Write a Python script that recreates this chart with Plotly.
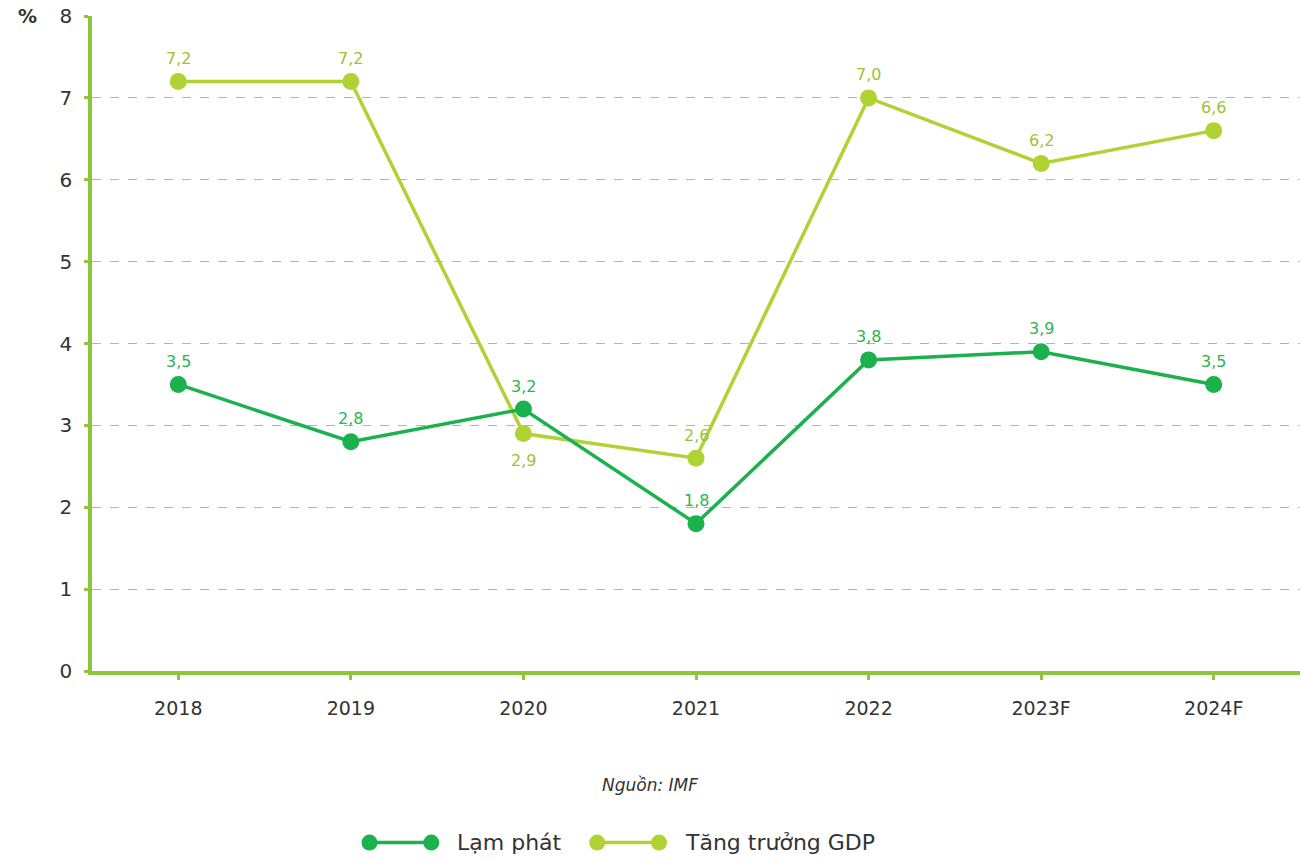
import plotly.graph_objects as go

years = ["2018", "2019", "2020", "2021", "2022", "2023F", "2024F"]
lam_phat = [3.5, 2.8, 3.2, 1.8, 3.8, 3.9, 3.5]
tang_truong_gdp = [7.2, 7.2, 2.9, 2.6, 7.0, 6.2, 6.6]
y_ticks = [0, 1, 2, 3, 4, 5, 6, 7, 8]

INF_COLOR = "#1bb14c"
GDP_COLOR = "#b1d235"
INF_LABEL = "#2cb450"
GDP_LABEL = "#9cc23a"
AXIS_COLOR = "#8cc63f"
TEXT_COLOR = "#333333"
FONT = "DejaVu Sans"

fig = go.Figure()
fig.add_trace(go.Scatter(
    x=years, y=tang_truong_gdp, mode="lines+markers", name="Tăng trưởng GDP",
    line=dict(color=GDP_COLOR, width=3.5),
    marker=dict(color=GDP_COLOR, size=17),
    showlegend=False, cliponaxis=False,
))
fig.add_trace(go.Scatter(
    x=years, y=lam_phat, mode="lines+markers", name="Lạm phát",
    line=dict(color=INF_COLOR, width=3.5),
    marker=dict(color=INF_COLOR, size=17),
    showlegend=False, cliponaxis=False,
))


def fmt(v):
    return f"{v:.1f}".replace(".", ",")


# Value labels (category index as x): above each point, except the 2020 GDP label below
for i, v in enumerate(tang_truong_gdp):
    below = i == 2
    fig.add_annotation(x=i, y=v, text=fmt(v), showarrow=False,
                       yshift=-27 if below else 23, yanchor="middle",
                       font=dict(size=16, color=GDP_LABEL, family=FONT))
for i, v in enumerate(lam_phat):
    fig.add_annotation(x=i, y=v, text=fmt(v), showarrow=False,
                       yshift=23, yanchor="middle",
                       font=dict(size=16, color=INF_LABEL, family=FONT))

# Legend drawn in paper space: line with a dot at each end, then the label
legend_items = [("Lạm phát", INF_COLOR, 0.2297), ("Tăng trưởng GDP", GDP_COLOR, 0.4182)]
legend_y = -0.262
seg = 0.0512
for label, color, x0 in legend_items:
    fig.add_shape(type="line", xref="paper", yref="paper",
                  x0=x0, x1=x0 + seg, y0=legend_y, y1=legend_y,
                  line=dict(color=color, width=3.5))
    for xc in (x0, x0 + seg):
        fig.add_shape(type="circle", xref="paper", yref="paper",
                      x0=xc - 0.0066, x1=xc + 0.0066,
                      y0=legend_y - 0.0122, y1=legend_y + 0.0122,
                      fillcolor=color, line=dict(width=0))
    fig.add_annotation(xref="paper", yref="paper", x=x0 + seg + 0.0195, y=legend_y,
                       text=label, showarrow=False, xanchor="left", yanchor="middle",
                       font=dict(size=22, color=TEXT_COLOR, family=FONT))

fig.add_annotation(xref="paper", yref="paper", x=0.462, y=-0.174,
                   text="<i>Nguồn: IMF</i>", showarrow=False,
                   xanchor="center", yanchor="middle",
                   font=dict(size=17, color=TEXT_COLOR, family=FONT))
fig.add_annotation(xref="paper", yref="paper", x=-0.053, y=1.0,
                   text="<b>%</b>", showarrow=False, xanchor="center", yanchor="middle",
                   font=dict(size=19, color=TEXT_COLOR, family=FONT))

fig.update_layout(
    width=1300, height=861,
    margin=dict(l=92, r=0, t=16, b=190),
    plot_bgcolor="white", paper_bgcolor="white",
    separators=",.",
    font=dict(family=FONT, color=TEXT_COLOR),
    xaxis=dict(
        type="category", range=[-0.5, 6.5],
        showline=True, linecolor=AXIS_COLOR, linewidth=3.5,
        ticks="outside", ticklen=5, tickwidth=3, tickcolor=AXIS_COLOR,
        showgrid=False, zeroline=False,
        tickfont=dict(size=19, color=TEXT_COLOR, family=FONT),
        ticklabelstandoff=12,
    ),
    yaxis=dict(
        range=[0, 8], tickvals=y_ticks,
        showline=True, linecolor=AXIS_COLOR, linewidth=3.5,
        ticks="outside", ticklen=4, tickwidth=3, tickcolor=AXIS_COLOR,
        showgrid=True, gridcolor="#b3b3b3", gridwidth=1, griddash="dash",
        zeroline=False,
        tickfont=dict(size=20, color=TEXT_COLOR, family=FONT),
        ticklabelstandoff=8,
    ),
)

fig.write_html("out.html")
